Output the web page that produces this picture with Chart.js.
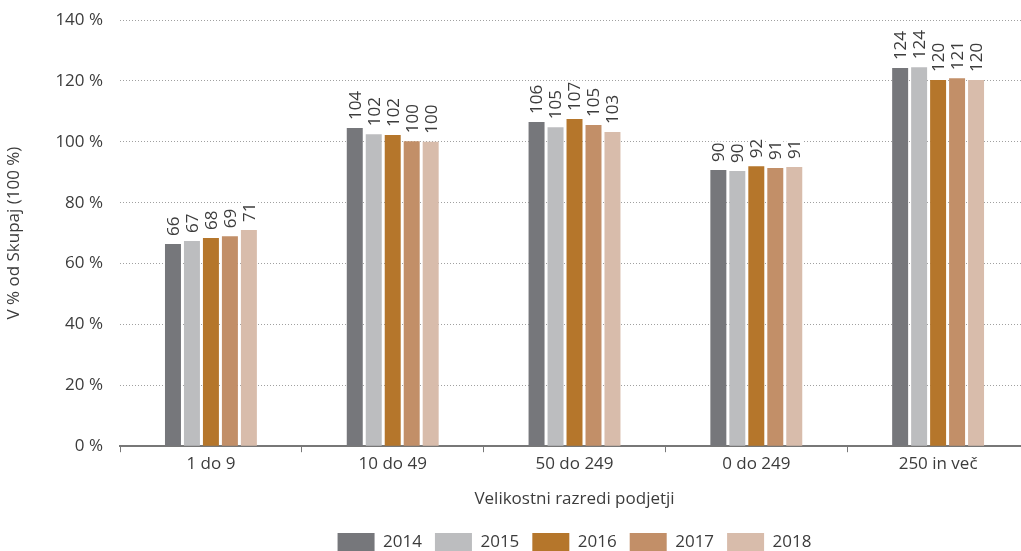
<!DOCTYPE html>
<html>
<head>
<meta charset="utf-8">
<script src="https://cdn.jsdelivr.net/npm/chart.js@4/dist/chart.umd.min.js"></script>
<style>
  html, body { margin: 0; padding: 0; background: #fff; overflow: hidden; }
  #wrap { width: 1040px; height: 551px; }
</style>
</head>
<body>
<div id="wrap"><canvas id="chart"></canvas></div>
<script>
const categories = ["1 do 9", "10 do 49", "50 do 249", "0 do 249", "250 in več"];
const years = ["2014", "2015", "2016", "2017", "2018"];
const values2014 = [66.4, 104.5, 106.5, 90.7, 124.2];
const values2015 = [67.4, 102.5, 104.8, 90.4, 124.5];
const values2016 = [68.4, 102.2, 107.5, 92.0, 120.3];
const values2017 = [69.0, 100.2, 105.5, 91.4, 120.9];
const values2018 = [71.0, 100.0, 103.2, 91.7, 120.3];
const shownLabels = [
  [66, 104, 106, 90, 124],
  [67, 102, 105, 90, 124],
  [68, 102, 107, 92, 120],
  [69, 100, 105, 91, 121],
  [71, 100, 103, 91, 120]
];
const colors = ["#76777b", "#bcbdbf", "#b5762b", "#c28f68", "#d8bcab"];

const FONT = "'Open Sans', sans-serif";
const TEXT = "#3c3c3c";

// rotated value labels with a white backing, drawn above each bar
const barLabels = {
  id: 'barLabels',
  afterDatasetsDraw(chart) {
    const ctx = chart.ctx;
    ctx.save();
    ctx.font = "17px " + FONT;
    ctx.textBaseline = 'middle';
    ctx.textAlign = 'left';
    chart.data.datasets.forEach((ds, i) => {
      chart.getDatasetMeta(i).data.forEach((bar, j) => {
        const txt = String(shownLabels[i][j]);
        const w = ctx.measureText(txt).width;
        ctx.save();
        ctx.translate(bar.x, bar.y - 8);
        ctx.rotate(-Math.PI / 2);
        ctx.fillStyle = '#fff';
        ctx.fillRect(-1, -8, w + 2, 16);
        ctx.fillStyle = TEXT;
        ctx.fillText(txt, 0, 1);
        ctx.restore();
      });
    });
    ctx.restore();
  }
};

const datasets = [values2014, values2015, values2016, values2017, values2018].map((vals, i) => ({
  label: years[i],
  data: vals,
  backgroundColor: colors[i],
  categoryPercentage: 0.522,
  barPercentage: 0.842
}));

new Chart(document.getElementById('chart'), {
  type: 'bar',
  data: { labels: categories, datasets },
  plugins: [barLabels],
  options: {
    responsive: true,
    maintainAspectRatio: false,
    animation: false,
    layout: { padding: { top: 0, right: 11, left: 0, bottom: -10 } },
    plugins: {
      tooltip: { enabled: false },
      legend: {
        position: 'bottom',
        fullSize: false,
        labels: {
          boxWidth: 37,
          boxHeight: 18,
          padding: 13,
          color: TEXT,
          font: { family: FONT, size: 17 }
        }
      }
    },
    scales: {
      x: {
        border: { display: true, color: '#777777', width: 2 },
        grid: { display: true, offset: true, drawOnChartArea: false, drawTicks: true, tickLength: 6, color: '#777777', lineWidth: 1 },
        ticks: { color: TEXT, font: { family: FONT, size: 17 }, padding: 2 },
        title: { display: true, text: 'Velikostni razredi podjetji', color: TEXT, font: { family: FONT, size: 17 }, padding: { top: 12, bottom: 11 } }
      },
      y: {
        min: 0,
        max: 140,
        border: { display: false, dash: [1, 2] },
        grid: { color: '#a0a0a0', lineWidth: 1, drawTicks: false },
        ticks: { stepSize: 20, color: TEXT, font: { family: FONT, size: 17 }, padding: 17, callback: v => v + ' %' },
        title: { display: true, text: 'V % od Skupaj (100 %)', color: TEXT, font: { family: FONT, size: 17 }, padding: { top: 4, bottom: 14 } },
        afterFit(scale) {
          // room above the top tick without the horizontal tick padding
          scale.paddingTop = 20;
          scale.paddingBottom = 11;
        }
      }
    }
  }
});
</script>
</body>
</html>
